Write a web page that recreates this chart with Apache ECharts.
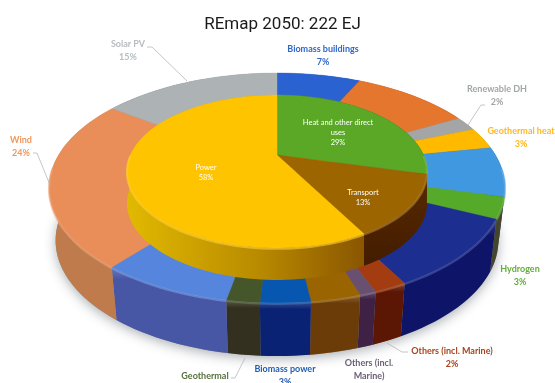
<!DOCTYPE html>
<html>
<head>
<meta charset="utf-8">
<title>REmap 2050</title>
<style>html,body{margin:0;padding:0;background:#fff}#chart{width:555px;height:383px}</style>
<script src="https://cdn.jsdelivr.net/npm/echarts@6/dist/echarts.min.js"></script>
</head>
<body>
<div id="chart"></div>
<script>
// Final energy shares, clockwise from twelve o'clock
const ringNames = ['Biomass buildings', 'Biomass industry', 'Renewable DH', 'Geothermal heat', 'Solar thermal',
  'Hydrogen', 'Biofuels', 'Others (incl. Marine)', 'Others (incl. Marine)', 'Hydro', 'Biomass power',
  'Geothermal', 'Other power', 'Wind', 'Solar PV'];
const ringValues = [7, 10, 2, 3, 7, 3, 10, 2, 1, 3, 3, 2, 8, 24, 15];
const hubNames = ['Heat and other direct uses', 'Transport', 'Power'];
const hubValues = [29, 13, 58];

// Surface and wall colours, in the same order as the values
const ringTop = ['#2a62d2', '#e5762e', '#a3a5a7', '#ffba00', '#3f98e0', '#55aa2a', '#1c2f90', '#a33c10',
  '#6a5070', '#9a6400', '#0757b0', '#44562a', '#5585dc', '#e98e58', '#adb2b5'];
const ringWall = ['#1a3c86', '#8a4a1c', '#66686a', '#9a7000', '#1b2d70', '#45452c', '#0e1568', '#5c1704',
  '#3e2145', '#6b3c08', '#0a2273', '#33301f', '#4856a6', '#c07b4c', '#6c7072'];
const hubTop = ['#5aa826', '#9c6500', '#ffc400'];

// Projection of each flat disc onto the page
const ringTopDisc = { cx: 277, hub: 168, K: 224.5, k: 111.5, a: 0.174 };
const ringBaseDisc = { cx: 277, hub: 220.4, K: 218, k: 112, a: 0.174 };
const hubTopDisc = { cx: 277, hub: 155, K: 146.5, k: 72.9, a: 0.2157 };
const hubBaseDisc = { cx: 277, hub: 187, K: 146.5, k: 72.9, a: 0.2157 };

const labelFont = '700 9px Lato, sans-serif';
const innerFont = '400 7.5px Lato, sans-serif';
const callouts = [
  { lines: ['Biomass buildings', '7%'], x: 323, y: 49, color: '#2f66c8', font: labelFont },
  { lines: ['Renewable DH', '2%'], x: 497, y: 89, color: '#a2a6a9', font: labelFont, leader: [[485, 105], [481, 105], [468, 125]] },
  { lines: ['Geothermal heat', '3%'], x: 521, y: 131, color: '#ffb81c', font: labelFont },
  { lines: ['Hydrogen', '3%'], x: 520, y: 269, color: '#62ae3a', font: labelFont },
  { lines: ['Others (incl. Marine)', '2%'], x: 452, y: 351, color: '#a8441c', font: labelFont, leader: [[408, 352], [402, 352], [387, 343]] },
  { lines: ['Others (incl.', 'Marine)'], x: 369, y: 363, color: '#6e6078', font: labelFont },
  { lines: ['Biomass power', '3%'], x: 285, y: 369, color: '#1f5fb0', font: labelFont },
  { lines: ['Geothermal'], x: 205, y: 376, color: '#56703c', font: labelFont, leader: [[231, 378], [235, 378], [245, 358]] },
  { lines: ['Wind', '24%'], x: 21, y: 140, color: '#f0965e', font: labelFont, leader: [[33, 153], [37, 153], [50, 185]] },
  { lines: ['Solar PV', '15%'], x: 128, y: 44, color: '#b7bdc1', font: labelFont, leader: [[147, 47], [152, 47], [187, 81]] },
  { lines: ['Heat and other direct', 'uses', '29%'], x: 338, y: 123, color: '#ffffff', font: innerFont, gap: 10 },
  { lines: ['Transport', '13%'], x: 363, y: 193, color: '#ffffff', font: innerFont, gap: 10 },
  { lines: ['Power', '58%'], x: 206, y: 168, color: '#ffffff', font: innerFont, gap: 10 }
];

function project(disc, deg) {
  const t = deg * Math.PI / 180, u = Math.sin(t), v = Math.cos(t), d = 1 + disc.a * v;
  return [disc.cx + disc.K * u / d, disc.hub - disc.k * v / d];
}
function arc(disc, from, to) {
  const pts = [], steps = Math.max(2, Math.ceil(Math.abs(to - from) / 2));
  for (let i = 0; i <= steps; i++) pts.push(project(disc, from + (to - from) * i / steps));
  return pts;
}
function spans(values) {
  const total = values.reduce((s, v) => s + v, 0);
  let run = 0;
  return values.map(v => { const a = run / total * 360; run += v; return [a, run / total * 360]; });
}
const vertical = (a, b, c) => ({ type: 'linear', x: 0, y: 0, x2: 0, y2: 1,
  colorStops: [{ offset: 0, color: a }, { offset: 0.14, color: b }, { offset: 1, color: c }] });
const mix = (hex, amt) => {
  const n = parseInt(hex.slice(1), 16), f = c => Math.round(c + (255 - c) * amt);
  return `rgb(${f(n >> 16)},${f((n >> 8) & 255)},${f(n & 255)})`;
};

// Side walls are drawn first so the flat tops cover their hidden parts
function wallRenderer(top, base, fillFor) {
  return (params, api) => {
    const a = api.value(0), b = api.value(1);
    return { type: 'polygon', silent: true,
      shape: { points: arc(top, a, b).concat(arc(base, b, a)) },
      style: { fill: fillFor(params.dataIndex) } };
  };
}
function topRenderer(disc, colors, rim) {
  return (params, api) => {
    const a = api.value(0), b = api.value(1), c = colors[params.dataIndex];
    const children = [{ type: 'polygon', silent: true,
      shape: { points: [[disc.cx, disc.hub]].concat(arc(disc, a, b)) },
      style: { fill: c, stroke: c, lineWidth: 0.4 } }];
    const from = Math.max(a, 90), to = Math.min(b, 270);
    if (to > from) {
      children.push({ type: 'polyline', silent: true,
        shape: { points: arc(disc, from, to).map(p => [p[0], p[1] + 0.8]) },
        style: { stroke: mix(c, rim), fill: null, lineWidth: 2.2, opacity: 0.6 } });
    }
    return { type: 'group', children };
  };
}
function calloutRenderer(params) {
  const c = callouts[params.dataIndex], gap = c.gap || 13, children = [];
  c.lines.forEach((line, i) => children.push({ type: 'text', silent: true,
    style: { text: line, x: c.x, y: c.y + i * gap, fill: c.color, font: c.font, align: 'center', verticalAlign: 'middle' } }));
  if (c.leader) children.push({ type: 'polyline', silent: true, shape: { points: c.leader },
    style: { stroke: '#b4b8bb', lineWidth: 0.8, fill: null } });
  return { type: 'group', children };
}

const hubWallFill = i => i === 2
  ? { type: 'linear', x: 0, y: 0, x2: 1, y2: 0, colorStops: [
      { offset: 0, color: '#e2b900' }, { offset: 0.55, color: '#b98b00' }, { offset: 1, color: '#8a5600' }] }
  : vertical('#7a4a10', i === 1 ? '#552800' : '#3c5a1a', i === 1 ? '#431c00' : '#2a3c12');

const ringSpans = spans(ringValues), hubSpans = spans(hubValues);
const custom = (z, data, renderItem) => ({ type: 'custom', coordinateSystem: 'none', z, silent: true, clip: false, data, renderItem });

const chart = echarts.init(document.getElementById('chart'), null, { renderer: 'canvas' });
chart.setOption({
  animation: false,
  backgroundColor: '#ffffff',
  title: { text: 'REmap 2050: 222 EJ', left: 277.5, top: 11, textAlign: 'center',
    textStyle: { fontFamily: 'Roboto, sans-serif', fontSize: 17, fontWeight: 400, color: '#1a1a1a' } },
  series: [
    custom(1, [[0, 360]], (p, api) => ({ type: 'polygon', silent: true,
      shape: { points: arc(ringBaseDisc, 0, 360) },
      style: { fill: '#888', shadowBlur: 12, shadowColor: 'rgba(40,50,60,0.38)', shadowOffsetY: 3 } })),
    custom(2, ringSpans, wallRenderer(ringTopDisc, ringBaseDisc, i => vertical(mix(ringWall[i], 0.2), ringWall[i], ringWall[i]))),
    custom(3, ringSpans, topRenderer(ringTopDisc, ringTop, 0.22)),
    custom(4, hubSpans, wallRenderer(hubTopDisc, hubBaseDisc, hubWallFill)),
    custom(5, hubSpans, topRenderer(hubTopDisc, hubTop, 0.2)),
    custom(6, callouts.map((c, i) => [i]), calloutRenderer)
  ]
});
</script>
</body>
</html>
